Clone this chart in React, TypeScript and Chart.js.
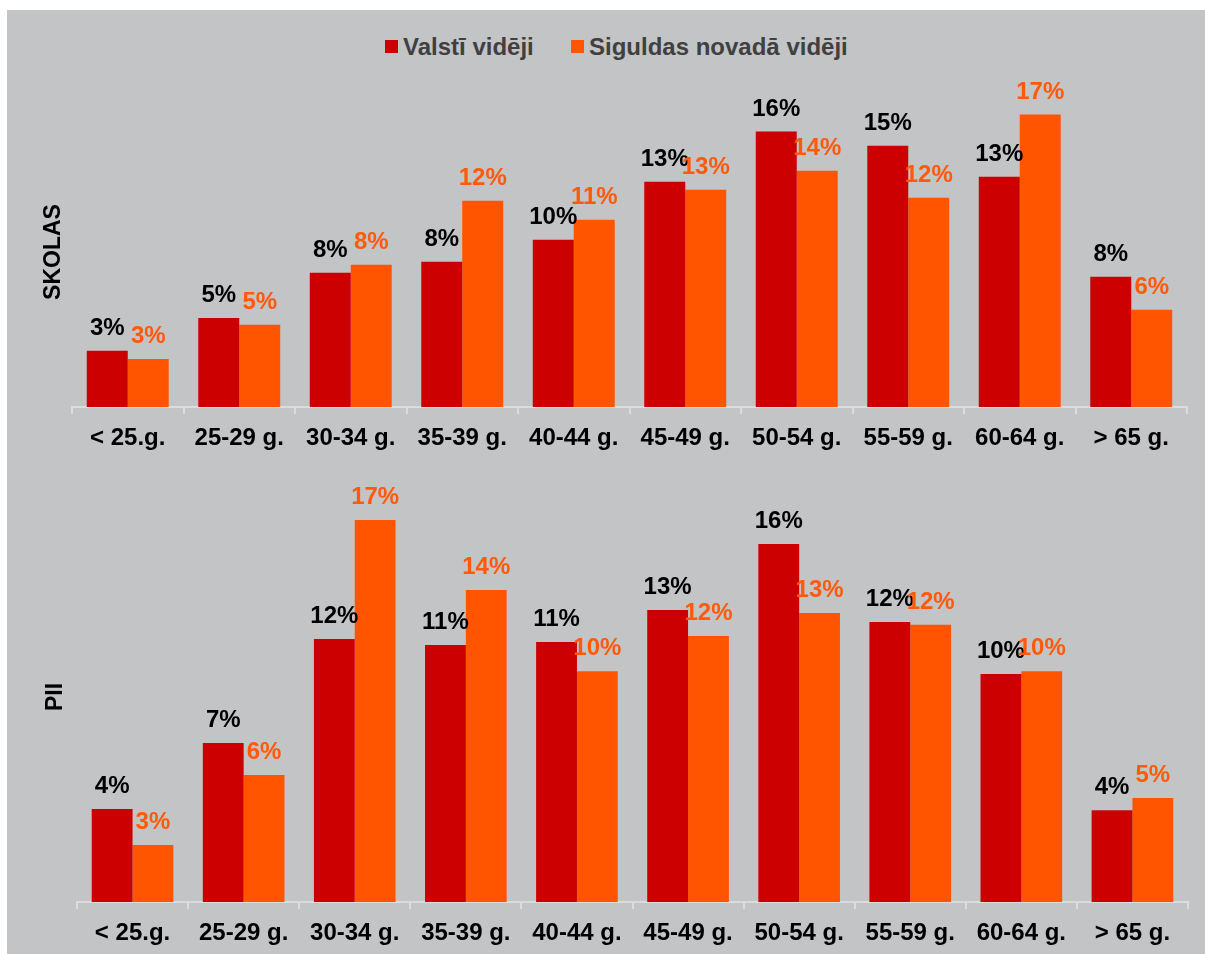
import React, { useEffect, useRef } from "react";
import { Chart, registerables } from "chart.js";

Chart.register(...registerables);

const categories = ["< 25.g.", "25-29 g.", "30-34 g.", "35-39 g.", "40-44 g.", "45-49 g.", "50-54 g.", "55-59 g.", "60-64 g.", "> 65 g."];
const seriesNames = ["Valstī vidēji", "Siguldas novadā vidēji"];

const skolasValsts = [3.26, 5.17, 7.79, 8.43, 9.71, 13.08, 15.99, 15.17, 13.37, 7.56];
const skolasSigulda = [2.79, 4.77, 8.26, 11.98, 10.87, 12.62, 13.72, 12.15, 16.98, 5.64];
const skolasValstsLabels = ["3%", "5%", "8%", "8%", "10%", "13%", "16%", "15%", "13%", "8%"];
const skolasSiguldaLabels = ["3%", "5%", "8%", "12%", "11%", "13%", "14%", "12%", "17%", "6%"];

const piiValsts = [4.15, 7.1, 11.74, 11.47, 11.6, 13.03, 15.98, 12.5, 10.18, 4.1];
const piiSigulda = [2.54, 5.67, 17.05, 13.93, 10.3, 11.87, 12.9, 12.37, 10.3, 4.64];
const piiValstsLabels = ["4%", "7%", "12%", "11%", "11%", "13%", "16%", "12%", "10%", "4%"];
const piiSiguldaLabels = ["3%", "6%", "17%", "14%", "10%", "12%", "13%", "12%", "10%", "5%"];

const RED = "#cc0000";
const ORANGE = "#ff5500";
const ORANGE_TEXT = "#ff5a0a";
const BG = "#c3c4c6";
const FONT = "'Liberation Sans', Arial, Helvetica, sans-serif";

const barLabelPlugin = {
  id: "barLabels",
  afterDatasetsDraw(chart: any, _args: any, opts: any) {
    const ctx = chart.ctx;
    ctx.save();
    ctx.font = `bold 24px ${FONT}`;
    ctx.textAlign = "center";
    ctx.textBaseline = "alphabetic";
    chart.data.datasets.forEach((_ds: any, i: number) => {
      const meta = chart.getDatasetMeta(i);
      ctx.fillStyle = opts.colors[i];
      meta.data.forEach((el: any, j: number) => {
        ctx.fillText(opts.labels[i][j], el.x, el.y - 16);
      });
    });
    ctx.restore();
  },
};

const yTitlePlugin = {
  id: "yTitle",
  afterDraw(chart: any, _args: any, opts: any) {
    const ctx = chart.ctx;
    const a = chart.chartArea;
    ctx.save();
    ctx.translate(a.left - opts.offset, (a.top + a.bottom) / 2);
    ctx.rotate(-Math.PI / 2);
    ctx.font = `bold 23px ${FONT}`;
    ctx.fillStyle = "#000000";
    ctx.textAlign = "center";
    ctx.textBaseline = "middle";
    ctx.fillText(opts.text, 0, 0);
    ctx.restore();
  },
};

type Props = {
  title: string;
  titleOffset: number;
  valsts: number[];
  sigulda: number[];
  valstsLabels: string[];
  siguldaLabels: string[];
  yMax: number;
  width: number;
  height: number;
  padding: { top: number; bottom: number; left: number; right: number };
};

function BarPanel(p: Props) {
  const ref = useRef<HTMLCanvasElement | null>(null);
  useEffect(() => {
    if (!ref.current) return;
    const chart = new Chart(ref.current, {
      type: "bar",
      data: {
        labels: categories,
        datasets: [
          { label: seriesNames[0], data: p.valsts, backgroundColor: RED, categoryPercentage: 0.735, barPercentage: 1 },
          { label: seriesNames[1], data: p.sigulda, backgroundColor: ORANGE, categoryPercentage: 0.735, barPercentage: 1 },
        ],
      },
      options: {
        responsive: false,
        maintainAspectRatio: false,
        animation: false,
        layout: { padding: p.padding },
        plugins: {
          legend: { display: false },
          tooltip: { enabled: false },
          barLabels: { labels: [p.valstsLabels, p.siguldaLabels], colors: ["#000000", ORANGE_TEXT] },
          yTitle: { text: p.title, offset: p.titleOffset },
        } as any,
        scales: {
          x: {
            offset: true,
            grid: { display: true, offset: true, drawOnChartArea: false, drawTicks: true, tickLength: 7, color: "#dcdcdc", lineWidth: 2 },
            border: { display: true, color: "#dcdcdc", width: 2 },
            ticks: { color: "#000000", font: { family: FONT, size: 24, weight: "bold" }, padding: 10, maxRotation: 0, autoSkip: false },
          },
          y: {
            display: false,
            min: 0,
            max: p.yMax,
          },
        },
      },
      plugins: [barLabelPlugin, yTitlePlugin],
    });
    return () => chart.destroy();
  }, []);
  return <canvas ref={ref} width={p.width} height={p.height} style={{ display: "block", width: p.width, height: p.height }} />;
}

export default function App() {
  const legendText: React.CSSProperties = {
    fontFamily: FONT,
    fontWeight: "bold",
    fontSize: 24,
    lineHeight: "23px",
    color: "#404040",
    whiteSpace: "nowrap",
  };
  const legendItem = (left: number, color: string, text: string) => (
    <div style={{ position: "absolute", left, top: 25, height: 23, display: "flex", alignItems: "center" }}>
      <div style={{ width: 13, height: 13, background: color, marginRight: 5 }} />
      <span style={legendText}>{text}</span>
    </div>
  );
  return (
    <div style={{ position: "absolute", left: 7, top: 10, width: 1198, height: 944, background: BG, overflow: "hidden" }}>
      {legendItem(378, RED, seriesNames[0])}
      {legendItem(564, ORANGE, seriesNames[1])}
      <div style={{ position: "absolute", left: 0, top: 70 }}>
        <BarPanel
          title="SKOLAS"
          titleOffset={18}
          valsts={skolasValsts}
          sigulda={skolasSigulda}
          valstsLabels={skolasValstsLabels}
          siguldaLabels={skolasSiguldaLabels}
          yMax={18}
          width={1198}
          height={389}
          padding={{ top: 17, bottom: 6.2, left: 65, right: 18 }}
        />
      </div>
      <div style={{ position: "absolute", left: 0, top: 455 }}>
        <BarPanel
          title="PII"
          titleOffset={21}
          valsts={piiValsts}
          sigulda={piiSigulda}
          valstsLabels={piiValstsLabels}
          siguldaLabels={piiSiguldaLabels}
          yMax={18.3}
          width={1198}
          height={493}
          padding={{ top: 27, bottom: 0.2, left: 70, right: 17 }}
        />
      </div>
    </div>
  );
}
